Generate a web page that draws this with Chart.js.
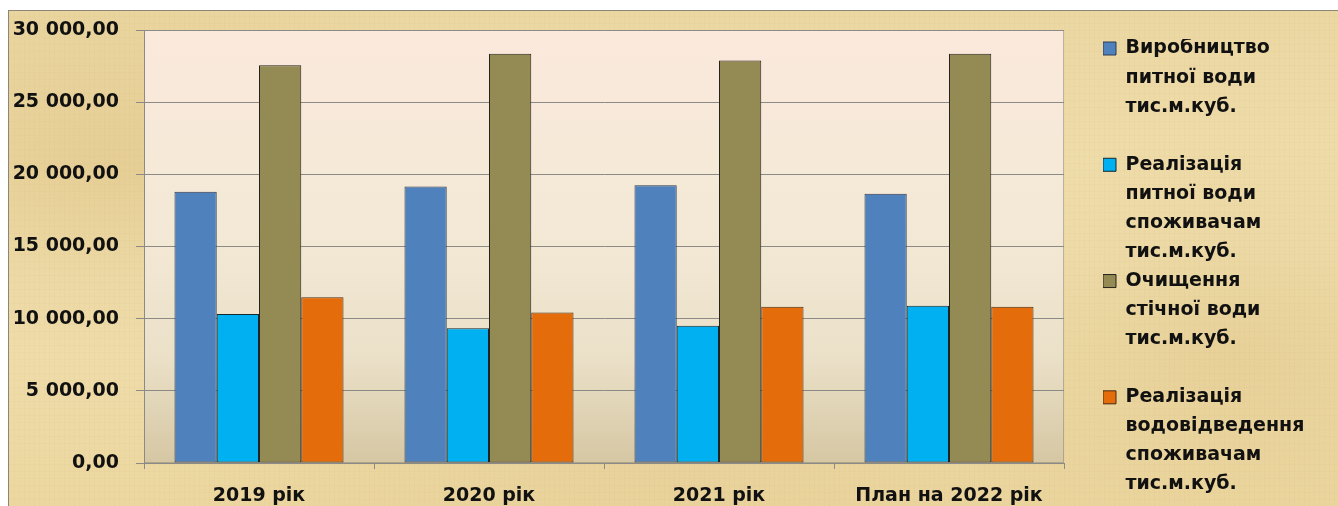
<!DOCTYPE html>
<html lang="uk">
<head>
<meta charset="utf-8">
<title>Водопостачання та водовідведення</title>
<script src="https://cdn.jsdelivr.net/npm/chart.js@4.4.1/dist/chart.umd.min.js"></script>
<style>
  html, body { margin: 0; padding: 0; background: #fff; overflow: hidden; }
  #wrap { position: relative; width: 1338px; height: 506px; }
  #paper {
    position: absolute; left: 8px; top: 10px; right: -2px; bottom: -2px;
    border: 1px solid #8d8578;
    background:
      repeating-linear-gradient(90deg, rgba(170,130,60,0.035) 0 1px, transparent 1px 5px),
      repeating-linear-gradient(0deg, rgba(170,130,60,0.03) 0 1px, transparent 1px 7px),
      radial-gradient(ellipse 30% 40% at 8% 30%, rgba(226,200,140,0.7), transparent),
      radial-gradient(ellipse 25% 45% at 92% 70%, rgba(228,204,146,0.7), transparent),
      radial-gradient(ellipse 40% 30% at 50% 95%, rgba(230,206,150,0.6), transparent),
      linear-gradient(180deg, #ebd7a2 0%, #f0dfae 50%, #ecd7a0 100%);
  }
  #chart { position: absolute; left: 0; top: 0; }
</style>
</head>
<body>
<div id="wrap">
  <div id="paper"></div>
  <canvas id="chart" width="1338" height="506"></canvas>
</div>
<script>
/*----------- data ------------ */
const categories = ['2019 рік', '2020 рік', '2021 рік', 'План на 2022 рік'];

const seriesNames = [
    'Виробництво питної води тис.м.куб.',
    'Реалізація питної води споживачам тис.м.куб.',
    'Очищення стічної води тис.м.куб.',
    'Реалізація водовідведення споживачам тис.м.куб.',
];

const legendLines = [
    ['Виробництво', 'питної води', 'тис.м.куб.'],
    ['Реалізація', 'питної води', 'споживачам', 'тис.м.куб.'],
    ['Очищення', 'стічної води', 'тис.м.куб.'],
    ['Реалізація', 'водовідведення', 'споживачам', 'тис.м.куб.'],
];

const waterProduced = [18800, 19150, 19240, 18660];
const waterSold = [10320, 9330, 9510, 10900];
const wastewaterTreated = [27560, 28360, 27880, 28360];
const drainageSold = [11480, 10420, 10830, 10830];

const yTickLabels = ['0,00', '5 000,00', '10 000,00', '15 000,00', '20 000,00', '25 000,00', '30 000,00'];

const fillColors = ['#4f81bd', '#00b0f0', '#948a54', '#e46c0a'];
const edgeColors = ['#2c3a4c', '#14262e', '#24221a', '#4a2a10'];

/*----------- plugins ------------ */
// plot area gradient like the office chart
const plotBackground = {
    id: 'plotBackground',
    beforeDraw(chart) {
        const { ctx, chartArea: a } = chart;
        const g = ctx.createLinearGradient(0, a.top, 0, a.bottom);
        g.addColorStop(0, '#fbe9dc');
        g.addColorStop(0.45, '#f3e9d6');
        g.addColorStop(0.75, '#ebe1c9');
        g.addColorStop(1, '#d6c7a3');
        ctx.save();
        ctx.fillStyle = g;
        ctx.fillRect(a.left, a.top, a.right - a.left, a.bottom - a.top);
        ctx.strokeStyle = 'rgba(150, 140, 120, 0.6)';
        ctx.lineWidth = 1;
        ctx.strokeRect(a.left + 0.5, a.top + 0.5, a.right - a.left - 1, a.bottom - a.top - 1);
        ctx.restore();
    }
};

// move legend a bit away from the plot
const legendPlacement = {
    id: 'legendPlacement',
    afterLayout(chart) {
        const lg = chart.legend;
        lg.left += 39;
        lg.right += 39;
        lg.top = 39;
    }
};

/*----------- chart ------------ */
const font = { family: "'DejaVu Sans', sans-serif", weight: 'bold', size: 19 };

const data = {
    labels: categories,
    datasets: [waterProduced, waterSold, wastewaterTreated, drainageSold].map((values, i) => ({
        label: seriesNames[i],
        data: values,
        backgroundColor: fillColors[i],
        borderColor: edgeColors[i],
        borderWidth: 1,
        borderSkipped: false,
        categoryPercentage: 0.735,
        barPercentage: 1.0,
    }))
};

const config = {
    type: 'bar',
    data: data,
    options: {
        responsive: false,
        animation: false,
        devicePixelRatio: 1,
        layout: { padding: { top: 30, right: 74, bottom: 0, left: 0 } },
        plugins: {
            tooltip: { enabled: false },
            legend: {
                position: 'right',
                align: 'start',
                maxWidth: 200,
                labels: {
                    color: '#111',
                    font: { family: font.family, weight: 'bold', size: 19, lineHeight: 1.53 },
                    boxWidth: 13,
                    boxHeight: 13,
                    padding: 0,
                    generateLabels(chart) {
                        const items = Chart.defaults.plugins.legend.labels.generateLabels(chart);
                        return items.map((item, i) => {
                            const lines = legendLines[i].slice();
                            while (lines.length < 4) lines.push('');
                            item.text = lines;
                            return item;
                        });
                    }
                }
            }
        },
        scales: {
            x: {
                grid: { drawOnChartArea: false, drawTicks: true, tickLength: 6, color: '#8a8a8a' },
                border: { color: '#8a8a8a' },
                ticks: { color: '#111', font: font, padding: 16, maxRotation: 0 },
                afterFit(scale) { scale.height = 43; }
            },
            y: {
                min: 0,
                max: 30000,
                grid: { color: '#8c8a86', tickLength: 8 },
                border: { color: '#8c8a86' },
                ticks: {
                    stepSize: 5000,
                    color: '#111',
                    font: font,
                    padding: 17,
                    callback: (value, index) => yTickLabels[index]
                },
                afterFit(scale) { scale.width = 144; }
            }
        }
    },
    plugins: [plotBackground, legendPlacement]
};

const myChart = new Chart(document.getElementById('chart'), config);
</script>
</body>
</html>
